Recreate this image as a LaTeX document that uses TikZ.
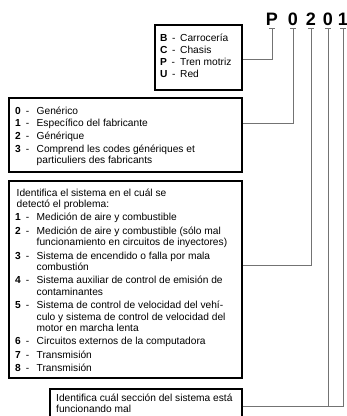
\documentclass[tikz,border=0pt]{standalone}
\usepackage{fontspec}
\setmainfont{Liberation Sans}
\usepackage{tikz}
\usetikzlibrary{fit}
\def\numwidth{21.5pt}
\def\dashgap{5pt}
\newenvironment{codelist}{\begin{tabular}[t]{@{}p{\numwidth}@{}l@{}}}{\end{tabular}}
\newcommand{\cn}[1]{\textbf{#1}\hspace{\dashgap}-}

\begin{document}
\begin{tikzpicture}[x=1pt,y=1pt]
		\tikzstyle{codebox}=[draw=black,line width=1.8pt,inner sep=0pt]
		\tikzstyle{boxtext}=[anchor=base west,inner sep=0pt,font=\fontsize{10.2}{11.3}\selectfont]
		\tikzstyle{digit}=[anchor=base,inner sep=0pt,font=\fontsize{18}{18}\selectfont\bfseries]
		\tikzstyle{conn}=[draw=black!55,line width=0.8pt]
		
		\useasboundingbox (0,0) rectangle (347,-416);
		\clip (0,0) rectangle (347,-416);
		
		% Draw the code characters
		\foreach \name/\ch/\x in {p/P/272,d1/0/293,d2/2/311,d3/0/328,d4/1/343}{
			\node[digit] (c-\name) at (\x,-25) {\ch};
			\coordinate (t-\name) at ([yshift=-3pt]c-\name.south);
			\draw[conn] ([xshift=-3pt]t-\name) -- ([xshift=3pt]t-\name);
		}
		
		% Draw the boxes
		\node[codebox,fit={(155,-25) (242,-90)}] (carr) {};
		\node[codebox,fit={(9,-98) (242,-172)}] (tipo) {};
		\node[codebox,fit={(9,-181) (242,-378)}] (sist) {};
		\node[codebox,fit={(50,-389) (242,-430)}] (secc) {};
		
		% Texts of the boxes
		\node[boxtext] (carr-t) at (160,-41) {\def\numwidth{20pt}\def\dashgap{4.5pt}\begin{codelist}
			\cn{B} & Carrocería\\[1pt]
			\cn{C} & Chasis\\[1pt]
			\cn{P} & Tren motriz\\[1pt]
			\cn{U} & Red
		\end{codelist}};
		\node[boxtext] (tipo-t) at (15,-114) {\begin{codelist}
			\cn{0} & Genérico\\[1.5pt]
			\cn{1} & Específico del fabricante\\[1.5pt]
			\cn{2} & Générique\\[1.5pt]
			\cn{3} & Comprend les codes génériques et\\
			& particuliers des fabricants
		\end{codelist}};
		\node[boxtext] (sist-t) at (15,-196) {\begin{codelist}
			\multicolumn{2}{@{\hspace{1.5pt}}l@{}}{Identifica el sistema en el cuál se}\\
			\multicolumn{2}{@{\hspace{1.5pt}}l@{}}{detectó el problema:}\\[2.2pt]
			\cn{1} & Medición de aire y combustible\\[2.2pt]
			\cn{2} & Medición de aire y combustible (sólo mal\\
			& funcionamiento en circuitos de inyectores)\\[2.2pt]
			\cn{3} & Sistema de encendido o falla por mala\\
			& combustión\\[2.2pt]
			\cn{4} & Sistema auxiliar de control de emisión de\\
			& contaminantes\\[2.2pt]
			\cn{5} & Sistema de control de velocidad del vehí-\\
			& culo y sistema de control de velocidad del\\
			& motor en marcha lenta\\[2.2pt]
			\cn{6} & Circuitos externos de la computadora\\[2.2pt]
			\cn{7} & Transmisión\\[2.2pt]
			\cn{8} & Transmisión
		\end{codelist}};
		\node[boxtext] (secc-t) at (56,-401) {\begin{tabular}[t]{@{}l@{}}
			Identifica cuál sección del sistema está\\
			funcionando mal
		\end{tabular}};
		
		% Connect every character with its box
		\draw[conn] (t-p) |- (carr.east |- 0,-59);
		\draw[conn] (t-d1) |- (tipo.east |- 0,-123);
		\draw[conn] (t-d2) |- (sist.east |- 0,-265);
		\draw[conn] (t-d4) |- (secc.east |- 0,-406);
		\draw[conn] (t-d3) -- (t-d3 |- 0,-406);
\end{tikzpicture}
\end{document}
